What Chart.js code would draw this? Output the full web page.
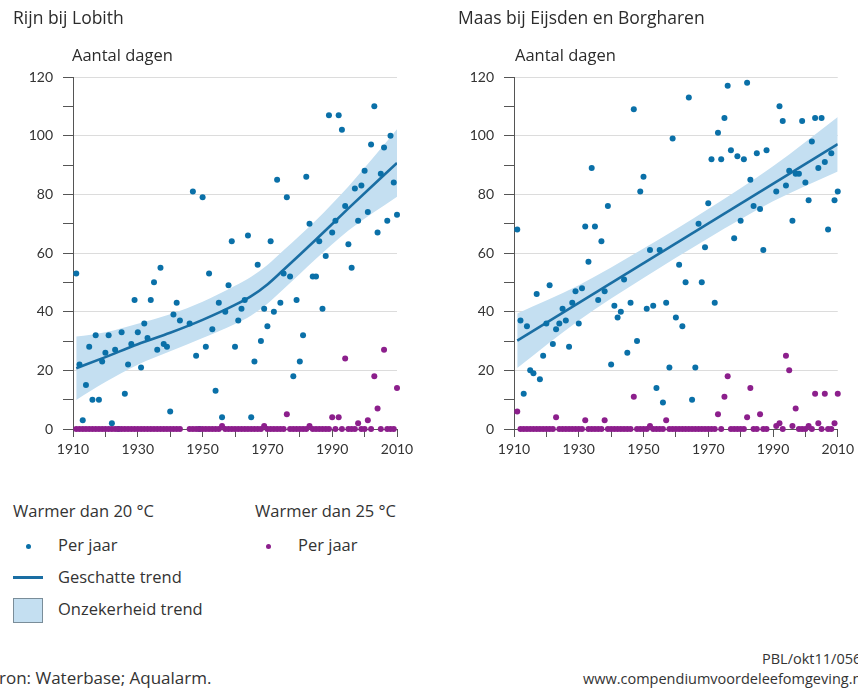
<!DOCTYPE html>
<html>
<head>
<meta charset="utf-8">
<script src="https://cdn.jsdelivr.net/npm/chart.js@4/dist/chart.umd.min.js"></script>
<style>
  html, body { margin:0; padding:0; background:#fff; }
  body { width:858px; height:688px; position:relative; overflow:hidden; font-family: "Open Sans", Lato, sans-serif; color:#333; }
  canvas { position:absolute; top:0; }
  .t { position:absolute; white-space:nowrap; line-height:1; }
  .title { font-size:17.5px; color:#2b2b2b; }
  .unit { font-size:16.5px; color:#2b2b2b; }
  .leg { font-size:16.5px; color:#333; }
  .dot { position:absolute; width:5px; height:5px; border-radius:50%; }
</style>
</head>
<body>
<canvas id="c1" width="429" height="470" style="left:0px"></canvas>
<canvas id="c2" width="429" height="470" style="left:429px"></canvas>

<div class="t title" style="left:13px; top:9px;">Rijn bij Lobith</div>
<div class="t title" style="left:458px; top:9px;">Maas bij Eijsden en Borgharen</div>
<div class="t unit" style="left:72px; top:47px;">Aantal dagen</div>
<div class="t unit" style="left:515px; top:47px;">Aantal dagen</div>

<div class="t leg" style="left:13px; top:503px;">Warmer dan 20 °C</div>
<div class="dot" style="left:26px; top:544px; background:#0a70a8;"></div>
<div class="t leg" style="left:58px; top:537px;">Per jaar</div>
<div style="position:absolute; left:13px; top:576px; width:30px; height:3px; background:#1a6ea3;"></div>
<div class="t leg" style="left:58px; top:569px;">Geschatte trend</div>
<div style="position:absolute; left:13px; top:598px; width:28px; height:23px; background:#c4dff1; border:1px solid #7a8d99;"></div>
<div class="t leg" style="left:58px; top:601px;">Onzekerheid trend</div>

<div class="t leg" style="left:255px; top:503px;">Warmer dan 25 °C</div>
<div class="dot" style="left:266px; top:544px; background:#8c1f8c;"></div>
<div class="t leg" style="left:298px; top:537px;">Per jaar</div>

<div class="t leg" style="left:-12px; top:669px; font-size:17px;">Bron: Waterbase; Aqualarm.</div>
<div class="t leg" style="left:762px; top:652px; font-size:14.5px;">PBL/okt11/0560</div>
<div class="t leg" style="left:583px; top:672px; font-size:14.5px;">www.compendiumvoordeleefomgeving.nl</div>

<script>
// ---------- categories ----------
const firstYear = 1911;
const lastYear = 2010;
const years = [];
for (let y = firstYear; y <= lastYear; y++) years.push(y);
const xTickLabels = [1910, 1930, 1950, 1970, 1990, 2010];
const yTickLabels = [0, 20, 40, 60, 80, 100, 120];

// ---------- Rijn bij Lobith ----------
const rijnWarm20 = [
  53,22,3,15,28,10,32,10,23,26,
  32,2,27,0,33,12,22,29,44,33,
  21,36,31,44,50,27,55,29,28,6,
  39,43,37,null,null,36,81,25,0,79,
  28,53,34,13,43,4,40,49,64,28,
  37,41,44,66,4,23,56,30,41,35,
  64,40,85,43,53,79,52,18,44,23,
  32,86,70,52,52,64,41,59,107,67,
  71,107,102,76,63,55,82,71,83,88,
  74,97,110,67,87,96,71,100,84,73
];
const rijnWarm25 = [
  0,0,0,0,0,0,0,0,0,0,
  0,0,0,0,0,0,0,0,0,0,
  0,0,0,0,0,0,0,0,0,0,
  0,0,0,null,null,0,0,0,0,0,
  0,0,0,0,0,1,0,0,0,0,
  0,0,0,0,0,0,0,0,1,0,
  0,0,0,0,0,5,0,0,0,0,
  0,0,1,0,0,0,0,0,0,4,
  0,4,0,24,0,0,0,2,0,0,
  3,0,18,7,0,27,0,0,0,14
];
const rijnTrendYears = [1911, 1920, 1930, 1940, 1950, 1960, 1965, 1970, 1975, 1980, 1985, 1995, 2010];
const rijnTrend      = [20.7, 24.5, 28.9, 32.8, 37.2, 42.3, 45.3, 49.3, 54.3, 59.4, 64.6, 75.2, 90.7];
const rijnUpper      = [31.5, 33.0, 35.9, 39.1, 43.4, 48.8, 51.9, 55.9, 60.9, 66.0, 71.2, 82.7, 102.2];
const rijnLower      = [ 9.9, 16.0, 21.9, 26.5, 31.0, 35.8, 38.7, 42.7, 47.7, 52.8, 58.0, 67.7, 79.2];

// ---------- Maas bij Eijsden en Borgharen ----------
const maasWarm20 = [
  68,37,12,35,20,19,46,17,25,36,
  49,29,34,36,41,37,28,43,47,36,
  48,69,57,89,69,44,64,47,76,22,
  42,38,40,51,26,43,109,30,81,86,
  41,61,42,14,61,9,43,21,99,38,
  56,35,50,113,10,21,70,50,62,77,
  92,43,101,92,106,117,95,65,93,71,
  92,118,85,76,94,75,61,95,null,null,
  81,110,105,83,88,71,87,87,105,84,
  78,98,106,89,106,91,68,94,78,81
];
const maasWarm25 = [
  6,0,0,0,0,0,0,0,0,0,
  0,0,4,0,0,0,0,0,0,0,
  0,3,0,0,0,0,0,3,0,0,
  0,0,0,0,0,0,11,0,0,0,
  0,1,0,0,0,0,3,0,0,0,
  0,0,0,0,0,0,0,0,0,0,
  0,0,5,0,11,18,0,0,0,0,
  0,4,14,0,0,5,0,0,null,null,
  1,2,0,25,20,1,7,0,0,0,
  1,0,12,2,0,12,0,0,2,12
];
const maasTrendYears = [1911, 2010];
const maasTrend      = [30.1, 97.1];
const maasBandYears  = [1911, 1930, 1950, 1970, 1990, 2010];
const maasUpper      = [39.4, 49.0, 61.5, 75.0, 89.6, 106.4];
const maasLower      = [20.8, 37.0, 51.5, 65.0, 77.6, 87.8];

// ---------- colours ----------
const BLUE = '#0a70a8';
const TREND = '#1a6ea3';
const BAND = '#c4dff1';
const PURPLE = '#8c1f8c';

function pts(xs, ys) { return xs.map((x, i) => ({ x: x, y: ys[i] })); }

function makeChart(id, w20, w25, tYears, trend, bYears, upper, lower, padRight, axisLeft) {
  const ctx = document.getElementById(id).getContext('2d');
  return new Chart(ctx, {
    type: 'scatter',
    data: {
      datasets: [
        { type:'line', data: pts(bYears, upper), borderWidth:0, pointRadius:0, fill:'+1',
          backgroundColor: BAND, cubicInterpolationMode:'monotone', order:10 },
        { type:'line', data: pts(bYears, lower), borderWidth:0, pointRadius:0, fill:false,
          backgroundColor: BAND, cubicInterpolationMode:'monotone', order:11 },
        { type:'line', data: pts(tYears, trend), borderColor: TREND, borderWidth:2.6, pointRadius:0,
          fill:false, cubicInterpolationMode:'monotone', order:5 },
        { data: pts(years, w20), backgroundColor: BLUE, borderWidth:0, pointRadius:3, order:3, clip:false },
        { data: pts(years, w25), backgroundColor: PURPLE, borderWidth:0, pointRadius:3, order:1, clip:false }
      ]
    },
    options: {
      responsive:false,
      animation:false,
      events: [],
      layout: { padding: { left:0, right:padRight, top:77, bottom:0 } },
      plugins: { legend:{display:false}, tooltip:{enabled:false} },
      scales: {
        x: {
          type:'linear', min:1910, max:2010,
          afterFit: s => { s.height = 41; },
          border: { display:true, color:'#555', width:1 },
          grid: { drawOnChartArea:false, tickColor:'#555', tickLength:8 },
          ticks: { stepSize:10, autoSkip:false, maxRotation:0, padding:4, color:'#333',
            font:{ family:'Lato', size:14 },
            callback: v => xTickLabels.includes(v) ? String(v) : '' }
        },
        y: {
          min:0, max:120,
          afterFit: s => { s.width = axisLeft; },
          border: { display:true, color:'#555', width:1 },
          grid: { color: c => (yTickLabels.includes(c.tick.value) && c.tick.value !== 0) ? '#dcdcdc' : 'rgba(0,0,0,0)',
                  tickColor:'#555', tickLength:10 },
          ticks: { stepSize:10, autoSkip:false, padding:10, color:'#333',
            font:{ family:'Lato', size:14 },
            callback: v => yTickLabels.includes(v) ? String(v) : '' }
        }
      }
    }
  });
}

makeChart('c1', rijnWarm20, rijnWarm25, rijnTrendYears, rijnTrend, rijnTrendYears, rijnUpper, rijnLower, 32, 73);
makeChart('c2', maasWarm20, maasWarm25, maasTrendYears, maasTrend, maasBandYears, maasUpper, maasLower, 19, 85);
</script>
</body>
</html>
